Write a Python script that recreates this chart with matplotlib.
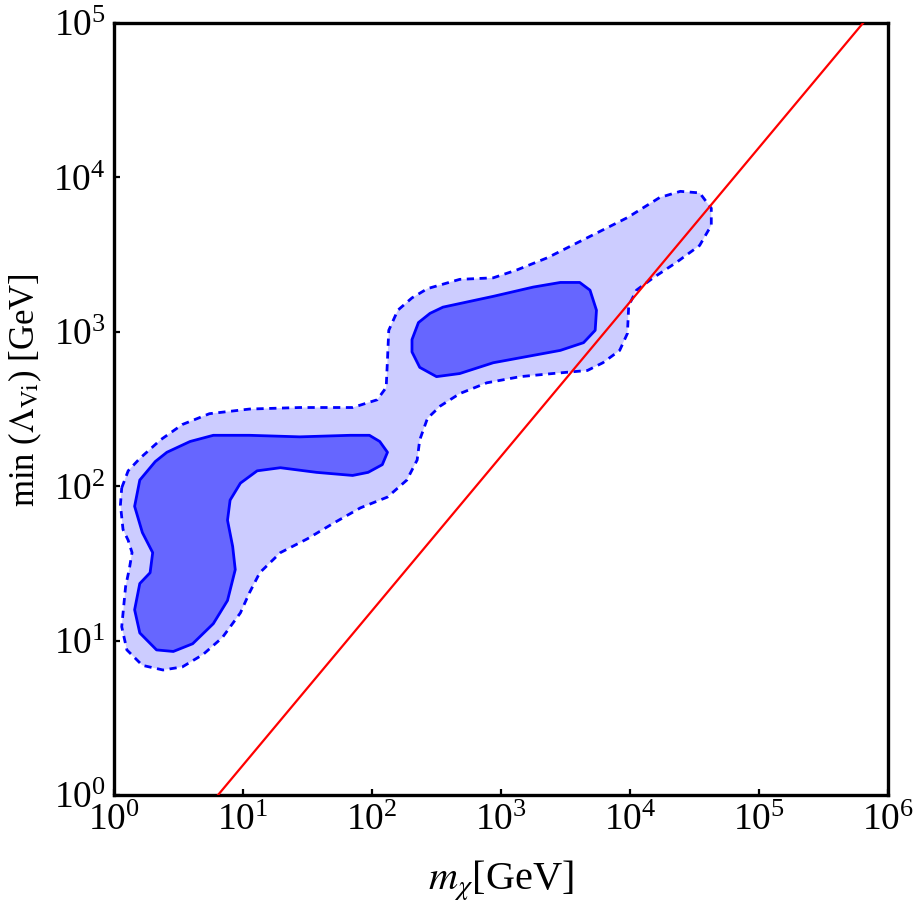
"""
plot.py

Allowed region of min(Lambda_Vi) against the dark matter mass.
"""

import matplotlib

matplotlib.use("Agg")

import matplotlib.pyplot as plt
import numpy as np

# contour outlines as (log10 m, log10 Lambda)
outer_logm = [
    0.06, 0.11, 0.20, 0.36, 0.53, 0.74, 1.05, 1.44, 1.85, 2.04, 2.11,
    2.12, 2.13, 2.20, 2.31, 2.43, 2.68, 2.94, 3.12, 3.36, 3.67, 3.98,
    4.23, 4.39, 4.54, 4.63, 4.63, 4.54, 4.36, 4.18, 4.05, 3.99, 3.98,
    3.92, 3.79, 3.67, 3.40, 3.15, 2.89, 2.68, 2.53, 2.43, 2.37, 2.35,
    2.27, 2.12, 1.91, 1.70, 1.50, 1.29, 1.13, 1.05, 0.98, 0.84, 0.69,
    0.53, 0.38, 0.22, 0.10, 0.06, 0.09, 0.12, 0.14, 0.11, 0.07, 0.05,
]
outer_loglam = [
    1.99, 2.10, 2.18, 2.30, 2.40, 2.47, 2.50, 2.51, 2.51, 2.56, 2.64,
    2.82, 3.01, 3.14, 3.22, 3.28, 3.34, 3.35, 3.40, 3.48, 3.61, 3.74,
    3.87, 3.91, 3.90, 3.80, 3.69, 3.56, 3.45, 3.35, 3.27, 3.17, 2.99,
    2.88, 2.80, 2.75, 2.73, 2.71, 2.67, 2.60, 2.52, 2.44, 2.30, 2.17,
    2.04, 1.93, 1.86, 1.76, 1.66, 1.57, 1.44, 1.31, 1.18, 1.02, 0.91,
    0.83, 0.81, 0.84, 0.94, 1.09, 1.35, 1.47, 1.57, 1.65, 1.72, 1.88,
]

upper_logm = [
    2.31, 2.36, 2.45, 2.55, 2.94, 3.25, 3.46, 3.61, 3.69, 3.74, 3.73,
    3.64, 3.46, 3.20, 2.94, 2.68, 2.50, 2.37, 2.31,
]
upper_loglam = [
    2.95, 3.06, 3.12, 3.16, 3.23, 3.29, 3.32, 3.32, 3.27, 3.14, 3.01,
    2.93, 2.88, 2.84, 2.80, 2.73, 2.71, 2.77, 2.87,
]

left_logm = [
    0.16, 0.20, 0.32, 0.41, 0.59, 0.77, 1.05, 1.44, 1.83, 1.98, 2.06,
    2.12, 2.08, 1.97, 1.85, 1.57, 1.29, 1.11, 0.98, 0.90, 0.88, 0.92,
    0.94, 0.88, 0.77, 0.61, 0.46, 0.33, 0.20, 0.16, 0.20, 0.28, 0.30,
    0.22,
]
left_loglam = [
    1.87, 2.04, 2.16, 2.22, 2.29, 2.33, 2.33, 2.32, 2.33, 2.33, 2.29,
    2.22, 2.14, 2.09, 2.07, 2.09, 2.12, 2.10, 2.02, 1.91, 1.78, 1.61,
    1.46, 1.26, 1.11, 0.98, 0.93, 0.94, 1.05, 1.20, 1.37, 1.44, 1.57,
    1.70,
]

# red bound: Lambda = m / ratio
bound_ratio = 6.4
bound_m = [1.0, 1.0e6]

x_ticks = [1e0, 1e1, 1e2, 1e3, 1e4, 1e5, 1e6]
y_ticks = [1e0, 1e1, 1e2, 1e3, 1e4, 1e5]

plt.rcParams["font.family"] = ["Liberation Serif", "DejaVu Serif"]
plt.rcParams["mathtext.fontset"] = "stix"

fig = plt.figure(figsize=(9.17, 9.08), dpi=100)
ax = fig.add_axes([0.1243, 0.1244, 0.8441, 0.8502])

ax.set_xscale("log")
ax.set_yscale("log")

outer_m = 10 ** np.array(outer_logm)
outer_lam = 10 ** np.array(outer_loglam)

ax.fill(
    outer_m,
    outer_lam,
    facecolor="#ccccff",
    edgecolor="none",
    zorder=1,
)

ax.fill(
    np.append(outer_m, outer_m[0]),
    np.append(outer_lam, outer_lam[0]),
    facecolor="none",
    edgecolor="#0000ff",
    linewidth=2.0,
    linestyle=(0, (2.6, 2.0)),
    zorder=3,
)

for logm, loglam in [(upper_logm, upper_loglam), (left_logm, left_loglam)]:

    ax.fill(
        10 ** np.array(logm),
        10 ** np.array(loglam),
        facecolor="#6666ff",
        edgecolor="#0000ff",
        linewidth=2.0,
        joinstyle="round",
        zorder=2,
    )

bound_m = np.array(bound_m)

ax.plot(
    bound_m,
    bound_m / bound_ratio,
    color="#ff0000",
    linewidth=1.6,
    zorder=4,
)

ax.set_xlim(1e0, 1e6)
ax.set_ylim(1e0, 1e5)

ax.set_xticks(x_ticks)
ax.set_yticks(y_ticks)
ax.minorticks_off()

ax.tick_params(
    axis="both",
    which="major",
    direction="in",
    length=4,
    width=1.6,
    labelsize=27,
    pad=6,
)

for spine in ax.spines.values():
    spine.set_linewidth(2.4)

ax.set_xlabel(r"$m_\chi$[GeV]", fontsize=29, va="center")
ax.xaxis.set_label_coords(0.5, -0.111)

ax.set_ylabel(r"min ($\Lambda_{\rm Vi}$) [GeV]", fontsize=25, va="center")
ax.yaxis.set_label_coords(-0.114, 0.525)

plt.savefig("out.png", dpi=100)

plt.close()
